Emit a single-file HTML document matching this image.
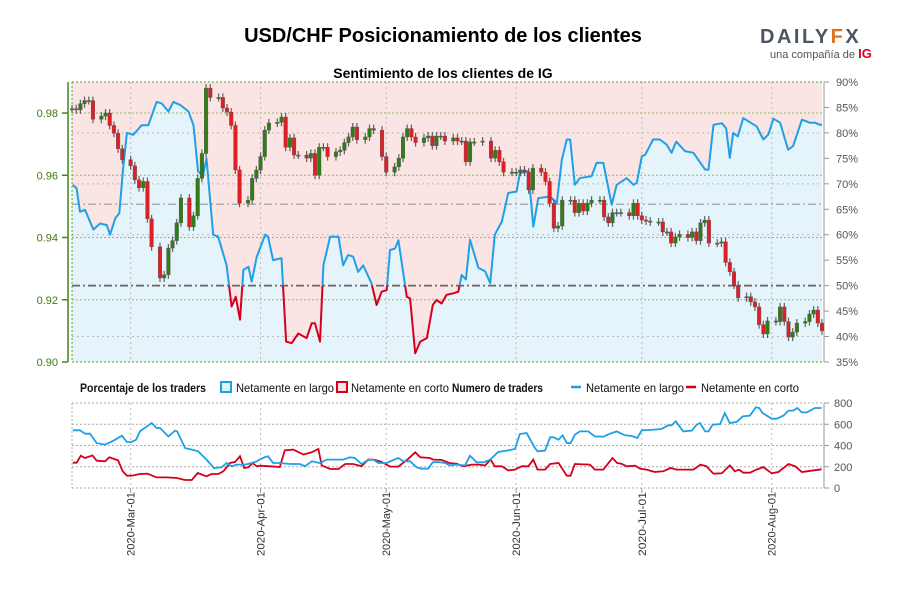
<!DOCTYPE html>
<html><head><meta charset="utf-8"><style>
html,body{margin:0;padding:0;background:#fff;width:900px;height:600px;overflow:hidden}
svg{display:block;font-family:"Liberation Sans",sans-serif}
</style></head><body>
<svg id="chart" width="900" height="600" viewBox="0 0 900 600">
<text x="443" y="42" text-anchor="middle" font-size="20" font-weight="bold" fill="#000">USD/CHF Posicionamiento de los clientes</text>
<g>
<text x="760" y="43" font-size="20" font-weight="bold" fill="#4b5563" letter-spacing="2.5">DAILY<tspan fill="#e0711a">F</tspan>X</text>
<text x="770" y="58" font-size="11" fill="#555">una compañía de <tspan fill="#d6001c" font-weight="bold" font-size="13">IG</tspan></text>
</g>
<text x="443" y="78" text-anchor="middle" font-size="14" font-weight="bold" fill="#000">Sentimiento de los clientes de IG</text>
<g id="topG"></g>
<g id="bottomG"></g>
<g id="legend" font-size="12" fill="#111">
<text x="80" y="392" font-weight="bold" textLength="126" lengthAdjust="spacingAndGlyphs">Porcentaje de los traders</text>
<rect x="221" y="382" width="10" height="10" fill="#e4f2fb" stroke="#1fa0e6" stroke-width="2"/>
<text x="236" y="392" textLength="98" lengthAdjust="spacingAndGlyphs">Netamente en largo</text>
<rect x="337" y="382" width="10" height="10" fill="#fbe3e3" stroke="#d6001c" stroke-width="2"/>
<text x="351" y="392" textLength="98" lengthAdjust="spacingAndGlyphs">Netamente en corto</text>
<text x="452" y="392" font-weight="bold" textLength="91" lengthAdjust="spacingAndGlyphs">Numero de traders</text>
<line x1="571" y1="387" x2="581" y2="387" stroke="#1fa0e6" stroke-width="2.5"/>
<text x="586" y="392" textLength="98" lengthAdjust="spacingAndGlyphs">Netamente en largo</text>
<line x1="686" y1="387" x2="696" y2="387" stroke="#d6001c" stroke-width="2.5"/>
<text x="701" y="392" textLength="98" lengthAdjust="spacingAndGlyphs">Netamente en corto</text>
</g>
</svg>
<script>
// ---- data ----
const dateLabels = ["2020-Mar-01","2020-Apr-01","2020-May-01","2020-Jun-01","2020-Jul-01","2020-Aug-01"];
const dateDays = [14,45,75,106,136,167];
const priceTicks = [0.98,0.96,0.94,0.92,0.90];
const pctTicks = [90,85,80,75,70,65,60,55,50,45,40,35];
const traderTicks = [800,600,400,200,0];
const candleDays = [0,1,2,3,4,5,7,8,9,10,11,12,14,15,16,17,18,19,21,22,23,24,25,26,28,29,30,31,32,33,35,36,37,38,39,40,42,43,44,45,46,47,49,50,51,52,53,54,56,57,58,59,60,61,63,64,65,66,67,68,70,71,72,74,75,77,78,79,80,81,82,84,85,86,87,88,89,91,92,93,94,95,96,98,100,101,102,103,105,106,107,108,109,110,112,113,114,115,116,117,119,120,121,122,123,124,126,127,128,129,130,131,133,134,135,136,137,138,140,141,142,143,144,145,147,148,149,150,151,152,154,155,156,157,158,159,161,162,163,164,165,166,168,169,170,171,172,173,175,176,177,178,179];
const closes = [0.9814,0.981,0.983,0.984,0.984,0.978,0.979,0.980,0.976,0.9735,0.9685,0.965,0.963,0.9585,0.956,0.958,0.946,0.937,0.927,0.928,0.9366,0.939,0.9447,0.9527,0.9434,0.947,0.959,0.967,0.988,0.985,0.985,0.9816,0.9803,0.976,0.9617,0.951,0.952,0.959,0.9617,0.966,0.9745,0.9768,0.977,0.9787,0.969,0.972,0.9665,0.9665,0.9655,0.967,0.960,0.969,0.969,0.966,0.9675,0.968,0.9705,0.9723,0.9755,0.9714,0.9723,0.975,0.9745,0.966,0.961,0.9627,0.9655,0.9723,0.975,0.9723,0.9705,0.972,0.9726,0.9695,0.9726,0.9726,0.971,0.972,0.971,0.971,0.9643,0.9707,0.9707,0.971,0.9655,0.968,0.9643,0.961,0.961,0.961,0.9617,0.961,0.9553,0.9623,0.961,0.958,0.951,0.943,0.9437,0.952,0.952,0.948,0.951,0.9485,0.951,0.952,0.952,0.9466,0.9447,0.948,0.948,0.948,0.947,0.951,0.947,0.9456,0.9453,0.945,0.945,0.9418,0.9418,0.9382,0.9402,0.941,0.940,0.9418,0.939,0.9447,0.9456,0.9382,0.9382,0.9386,0.932,0.929,0.9247,0.9206,0.921,0.9193,0.9177,0.912,0.909,0.9132,0.913,0.9177,0.913,0.908,0.9096,0.9125,0.913,0.9154,0.9167,0.9125,0.910];
const sentDays = [0.2,1.1,1.9,3.1,5.1,6.7,8.3,9.1,10.3,11.3,12.2,13.1,14.6,16.6,18.2,20.2,21.4,23,24.2,25.8,27.8,29,30.1,31.3,32.1,33.7,34.9,36.9,38.1,39.1,40.1,40.9,42.1,42.9,44.1,46.1,46.8,48,50,51.1,52.4,54,56,57.2,58,59.2,60,61.6,63.6,64.7,65.9,67.1,68.3,69.5,71.5,72.7,73.9,75.1,75.9,77.1,77.9,79.9,80.7,81.9,83.1,84.7,86.1,87,88.2,89.4,91,92.2,93,94,95,97,98.6,99.8,100.9,102.6,104.1,106.1,106.9,108.9,110.1,111.3,114.1,115.7,116.9,118.1,118.9,120,121.2,124,125.2,126.8,128.8,130,132.4,134,134.8,136,136.8,138.7,140.3,141.9,143.1,144.2,146.3,148.3,151.1,151.9,153.1,155.1,156.1,157,157.8,158.9,160.2,163.4,165,166.2,167.4,169,170.9,172.1,174.2,176.1,177.3,178.5,179];
const longPct = [69.8,69.1,64.5,64.9,61,62.2,61.9,60,63.2,64.2,73,80,79.6,81.5,81.5,86.1,85.8,84.2,86.1,85.5,84.2,81.5,72.4,71.7,75,60,59.6,54,45.9,47.8,43.3,53.1,53.7,50.8,55.7,60,59.6,55,55.4,39,38.7,40.6,39.7,42.6,42.6,39,54,59.6,59.6,54,56,55.7,52.7,54,50.4,46.2,48.8,49.1,57,57.3,58.9,47.8,47.5,36.7,39,39.7,46.2,47.2,46.5,48.2,48.5,48.8,52.1,51.2,59,53.5,52.8,50.5,60,62.6,68.2,68.5,72.1,72.5,61.6,67.2,67.5,66.2,74.7,78.7,78.7,69.8,71.1,71.5,74.1,74.1,65.9,69.8,71.1,69.8,70.2,75.4,75.7,78.7,78.7,77.7,76.1,78.3,76.4,76.1,72.8,72.8,81.6,81.9,80.9,75.1,80,79.3,82.9,81.3,78.7,79.7,82.8,82,76.7,77.4,82.6,82,82,81.6,81.6];
const longDays = [0.2,1.9,3.1,4.3,5.9,7.9,9.9,11.9,13.1,14.2,15.3,16.2,19,20.2,21,23,24.6,25.1,27,28.6,30.1,32.1,33.9,35.7,36.9,38.1,39.3,41.3,42.9,44.1,44.9,46.1,46.8,48,49.6,52,54.4,55.6,57.2,59.2,60.8,64.7,66.3,67.5,69.1,70.7,71.9,73.1,75.1,76.7,77.9,79.1,80.7,82.3,83.5,85,86.1,87.4,89,90.2,91.4,93.8,95,96.6,98.2,99.8,101.7,104.1,105.7,106.9,108.5,110.5,111.1,112.9,114.1,114.9,116.1,117.1,118.1,119,120,121.2,123.2,124.8,126.8,128.4,130,132,133.6,134.9,136,137.9,140.7,142.3,143.1,144.1,145.9,147.9,149.1,149.9,151.1,151.9,152.9,154.7,155.8,157,158.6,160.1,161.8,163.2,164,164.8,167,168.2,169.8,171,172.1,173.1,174.2,175.4,177.3,178.9];
const longTraders = [543,543,511,511,423,408,445,492,433,433,455,533,612,565,565,486,540,533,376,361,345,267,188,195,235,204,220,220,235,251,270,292,298,235,235,226,226,204,251,235,267,267,289,282,226,264,267,235,235,264,282,251,251,194,182,182,242,245,235,213,220,213,304,242,242,267,339,354,367,508,518,376,345,351,477,477,455,496,423,423,502,533,533,486,483,511,533,496,489,471,543,546,555,590,590,627,533,540,596,612,533,533,596,602,706,612,621,674,681,759,753,706,652,652,681,728,728,753,712,712,753,753];
const shortDays = [0.2,1.1,2.1,3.1,4.9,5.9,7.9,8.9,11,12.1,13.1,14.2,16.2,18,20.2,22.6,25,27,28.6,30,32.1,33.3,34.9,36.1,37.7,38.9,40.1,41.1,42.1,43.1,44.1,44.9,47.3,49.6,50.8,52.8,55.2,57.2,58.8,59.6,61.6,63.6,65.2,67.1,69.1,70.7,72.3,73.9,75.9,77.9,80.3,81.9,83.1,85.4,86.2,88.2,90,91.8,93.4,95.4,97,98.6,99.9,100.9,102.6,104.1,105.7,107.3,108.9,110.1,111.1,112.9,114.1,116.1,118.1,119,120,123.6,124.8,126.8,129,130.1,131.1,132.4,134.4,135.6,137.1,139.1,141.1,142.9,144.3,148.3,150,151.4,153.1,155.1,157,158.2,159.2,160.2,161.8,163.4,165,167,168.6,171,172.6,174.2,176.5,178.9];
const shortTraders = [238,238,304,282,307,257,251,289,260,157,116,116,132,135,100,100,94,75,75,141,110,132,132,157,235,245,298,188,195,235,204,210,204,198,354,361,314,336,367,213,179,179,226,226,204,267,264,245,201,201,276,336,289,282,267,264,235,229,204,220,220,213,267,204,204,166,173,204,204,267,173,173,226,235,116,116,226,220,173,173,282,235,229,204,210,182,173,151,157,188,173,173,220,204,135,138,213,157,173,144,144,173,198,138,151,226,204,151,163,176];

(function () {
const NS = "http://www.w3.org/2000/svg";
const X0 = 72, X1 = 822, DAYMAX = 179;
const xDay = d => X0 + d * (X1 - X0) / DAYMAX;
const TY0 = 82, TY1 = 362;
const yPrice = p => TY1 - (p - 0.90) / 0.08 * (TY1 - 113);
const yPct = p => TY0 + (90 - p) / 55 * (TY1 - TY0);
const BY0 = 403, BY1 = 488;
const yTr = v => BY1 - v / 800 * (BY1 - BY0);

function mk(parent, tag, attrs, text) {
  const e = document.createElementNS(NS, tag);
  for (const k in attrs) e.setAttribute(k, attrs[k]);
  if (text !== undefined) e.textContent = text;
  parent.appendChild(e);
  return e;
}
const topG = document.getElementById('topG');
const bottomG = document.getElementById('bottomG');
const svg = document.getElementById('chart');
let el;

const defs = mk(svg, 'defs', {});
const cpTop = mk(defs, 'clipPath', {id: 'cpTop'});
mk(cpTop, 'rect', {x: X0, y: TY0, width: X1 - X0, height: TY1 - TY0});
const cpAbove = mk(defs, 'clipPath', {id: 'cpAbove'});
mk(cpAbove, 'rect', {x: X0, y: TY0 - 5, width: X1 - X0, height: yPct(50) - TY0 + 5});
const cpBelow = mk(defs, 'clipPath', {id: 'cpBelow'});
mk(cpBelow, 'rect', {x: X0, y: yPct(50), width: X1 - X0, height: TY1 - yPct(50) + 5});

el = mk(topG, 'rect', {x: X0, y: TY0, width: X1 - X0, height: TY1 - TY0, fill: '#fbe4e4'});



const pts = sentDays.map((d, i) => xDay(d).toFixed(1) + ',' + yPct(longPct[i]).toFixed(1));
el = mk(topG, 'path', {d: 'M' + X0 + ',' + TY1 + ' L' + X0 + ',' + yPct(longPct[0]).toFixed(1) + ' L' + pts.join(' L') + ' L' + X1 + ',' + yPct(longPct[longPct.length - 1]).toFixed(1) + ' L' + X1 + ',' + TY1 + 'Z', fill: '#e5f3fb', 'clip-path': 'url(#cpTop)'});



[80, 70, 60, 40].forEach(p => {
  el = mk(topG, 'line', {x1: X0, x2: X1, y1: yPct(p), y2: yPct(p), stroke: '#bbb', 'stroke-dasharray': '2,3'});
  
  
});
priceTicks.slice(0, 4).forEach(p => {
  el = mk(topG, 'line', {x1: X0, x2: X1, y1: yPrice(p), y2: yPrice(p), stroke: '#8fbf5a', 'stroke-dasharray': '2,2'});
  
  
});
dateDays.forEach(d => {
  el = mk(topG, 'line', {x1: xDay(d), x2: xDay(d), y1: TY0, y2: TY1, stroke: '#bbb', 'stroke-dasharray': '2,3'});
  
  
});
el = mk(topG, 'line', {x1: X0, x2: X1, y1: yPct(66), y2: yPct(66), stroke: '#999', 'stroke-dasharray': '8,3,2,3', 'stroke-width': 1.2});


el = mk(topG, 'line', {x1: X0, x2: X1, y1: yPct(50), y2: yPct(50), stroke: '#666', 'stroke-dasharray': '8,3,2,3', 'stroke-width': 1.8});



mk(topG, 'line', {x1: X0, x2: X1, y1: TY0, y2: TY0, stroke: '#5a9a2a', 'stroke-dasharray': '2,2'});
mk(topG, 'line', {x1: X0, x2: X1, y1: TY1, y2: TY1, stroke: '#5a9a2a', 'stroke-dasharray': '2,2'});
mk(topG, 'line', {x1: X0, x2: X0, y1: TY0, y2: TY1, stroke: '#5a9a2a', 'stroke-dasharray': '2,2'});
el = mk(topG, 'line', {x1: 68, x2: 68, y1: TY0, y2: TY1, stroke: '#3d8a16', 'stroke-width': 1.5});


el = mk(topG, 'line', {x1: 824, x2: 824, y1: TY0, y2: TY1, stroke: '#999'});



priceTicks.forEach(p => {
  mk(topG, 'line', {x1: 62, x2: 68, y1: yPrice(p), y2: yPrice(p), stroke: '#3d8a16', 'stroke-width': 1.5});
  el = mk(topG, 'text', {x: 58, y: yPrice(p) + 4, 'text-anchor': 'end', 'font-size': 11, fill: '#3d7a10'}, p.toFixed(2));
  
  
});
pctTicks.forEach(p => {
  mk(topG, 'line', {x1: 824, x2: 829, y1: yPct(p), y2: yPct(p), stroke: '#999'});
  el = mk(topG, 'text', {x: 836, y: yPct(p) + 4, 'font-size': 11, fill: '#555'}, p + '%');
  
  
});

['cpAbove', 'cpBelow'].forEach((c, k) => {
  el = mk(topG, 'polyline', {points: pts.join(' '), fill: 'none', stroke: k === 0 ? '#1fa0e6' : '#d6001c', 'stroke-width': 2, 'clip-path': 'url(#' + c + ')', 'stroke-linejoin': 'round'});
  
  
});

const cg = mk(topG, 'g', {});


closes.forEach((c, i) => {
  const o = i ? closes[i - 1] : 0.9812;
  const x = xDay(candleDays[i]);
  const yo = yPrice(o), yc = yPrice(c);
  const yt = Math.min(yo, yc), yb = Math.max(yo, yc);
  const w = mk(cg, 'line', {x1: x, x2: x, y1: yt - 4, y2: yb + 4, stroke: '#333', 'stroke-width': 1.2, 'stroke-opacity': 0.75});
  
  
  const r = mk(cg, 'rect', {x: x - 1.8, y: yt, width: 3.6, height: Math.max(1.2, yb - yt), fill: c >= o ? '#2f7d14' : '#de1f26', stroke: '#555', 'stroke-width': 0.4});
  
  
});

traderTicks.forEach(v => {
  el = mk(bottomG, 'line', {x1: X0, x2: X1, y1: yTr(v), y2: yTr(v), stroke: '#aaa', 'stroke-dasharray': '2,2'});
  
  
  mk(bottomG, 'line', {x1: 824, x2: 829, y1: yTr(v), y2: yTr(v), stroke: '#999'});
  el = mk(bottomG, 'text', {x: 834, y: yTr(v) + 4, 'font-size': 11, fill: '#555'}, String(v));
  
  
});
mk(bottomG, 'line', {x1: X0, x2: X0, y1: BY0, y2: BY1, stroke: '#aaa', 'stroke-dasharray': '2,2'});
el = mk(bottomG, 'line', {x1: 824, x2: 824, y1: BY0, y2: BY1, stroke: '#999'});


dateDays.forEach((d, i) => {
  el = mk(bottomG, 'line', {x1: xDay(d), x2: xDay(d), y1: BY0, y2: BY1, stroke: '#bbb', 'stroke-dasharray': '2,3'});
  
  
  mk(bottomG, 'line', {x1: xDay(d), x2: xDay(d), y1: BY1, y2: BY1 + 5, stroke: '#999'});
  el = mk(bottomG, 'text', {x: 0, y: 0, 'font-size': 11, fill: '#333', 'text-anchor': 'end', textLength: 64, lengthAdjust: 'spacingAndGlyphs', transform: 'translate(' + (xDay(d) + 4) + ',' + (BY1 + 4) + ') rotate(-90)'}, dateLabels[i]);
  
  
});
el = mk(bottomG, 'polyline', {points: shortDays.map((d, i) => xDay(d).toFixed(1) + ',' + yTr(shortTraders[i]).toFixed(1)).join(' '), fill: 'none', stroke: '#d6001c', 'stroke-width': 1.8});


el = mk(bottomG, 'polyline', {points: longDays.map((d, i) => xDay(d).toFixed(1) + ',' + yTr(longTraders[i]).toFixed(1)).join(' '), fill: 'none', stroke: '#1fa0e6', 'stroke-width': 1.8});


})();
</script>
</body></html>
